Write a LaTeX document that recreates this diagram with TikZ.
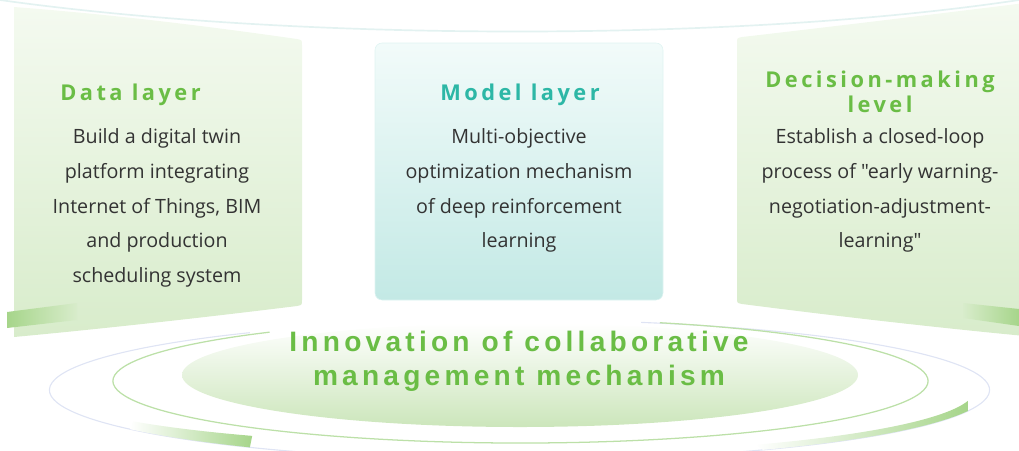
\documentclass[tikz,border=0pt]{standalone}
\usepackage{fontspec}
\setmainfont{Open Sans}[Ligatures=TeXOff]
\newfontfamily\headfont[LetterSpace=16]{Open Sans}
\newfontfamily\corefont[LetterSpace=15]{Liberation Sans}
\usetikzlibrary{calc}
\definecolor{leaf}{HTML}{6ABD45}
\definecolor{teal}{HTML}{2DB7A6}
\definecolor{ink}{HTML}{333333}
\definecolor{leaftop}{HTML}{F4FAF0}
\definecolor{leafbot}{HTML}{D8ECCB}
\definecolor{tealtop}{HTML}{F2FBFA}
\definecolor{tealbot}{HTML}{C3E9E5}
\definecolor{streak}{HTML}{A6D58A}
\definecolor{ring}{HTML}{BCE0A8}
\definecolor{haze}{HTML}{DFE4F4}
\definecolor{skyline}{HTML}{E3F2F1}
\definecolor{ovalbot}{HTML}{CCE6BB}

\begin{document}
\begin{tikzpicture}[x=0.025cm,y=-0.025cm,
  head/.style={font=\headfont\bfseries\fontsize{15.5}{18}\selectfont,inner sep=0,align=center},
  body/.style={font=\fontsize{14}{24.8}\selectfont,text=ink,inner sep=0,align=center}]
  \useasboundingbox (0,0) rectangle (1019,450);
  \clip (0,0) rectangle (1019,450);
  % faint arc over the three panels
  \draw[skyline,line width=1.2pt] (0,0) .. controls (300,42) and (740,42) .. (1019,0);

  % side panels, bent towards the middle
  \shade[top color=leaftop,bottom color=leafbot] (14,7) .. controls (120,15) and (220,28) .. (297,39)
    .. controls (302,40) .. (302,45) -- (302,300) .. controls (302,305) .. (297,306)
    .. controls (200,318) and (100,329) .. (14,337) -- cycle;
  \shade[top color=leaftop,bottom color=leafbot] (742,37) .. controls (820,28) and (920,16) .. (1025,3)
    -- (1025,336) .. controls (920,326) and (820,314) .. (742,304)
    .. controls (737,303) .. (737,298) -- (737,43) .. controls (737,38) .. (742,37) -- cycle;
  \shade[left color=streak,right color=leafbot] (7,312) -- (77,303) -- (77,320) -- (7,328) -- cycle;
  \shade[left color=leafbot,right color=streak] (963,303) -- (1019,309) -- (1019,326) -- (963,318) -- cycle;
  % middle panel
  \shadedraw[draw=tealtop!60!tealbot,top color=tealtop,bottom color=tealbot,rounded corners=5] (375,43) rectangle (663,300);

  % rings round the core
  \coordinate (hub) at (519.5,390);
  \coordinate (ringc) at (520.5,381);
  \draw[haze,line width=0.8pt] (hub) ++(-75:470 and 70) arc[start angle=-75,end angle=235,x radius=470,y radius=70];
  \draw[ring,line width=0.9pt] (ringc) ++(-70:407.5 and 62) arc[start angle=-70,end angle=232,x radius=407.5,y radius=62];
  \shade[top color=white,middle color=ovalbot!45,bottom color=ovalbot] (520,375) ellipse[x radius=338,y radius=52];
  \shade[left color=white,right color=streak] ($(hub)+(125:470 and 70)$) arc[start angle=125,end angle=146,x radius=470,y radius=70]
    -- ($(hub)+(146:466 and 56)$) arc[start angle=146,end angle=125,x radius=466,y radius=56] -- cycle;
  \shade[left color=white,right color=streak] ($(hub)+(17.4:470 and 70)$) arc[start angle=17.4,end angle=58.8,x radius=470,y radius=70]
    -- ($(hub)+(58.8:455 and 64)$) arc[start angle=58.8,end angle=9.7,x radius=455,y radius=64] -- cycle;

  % texts
  \node[head,text=leaf,anchor=west] (dataHead) at (60,95) {Data layer};
  \node[body] (dataBody) at (157,208) {Build a digital twin\\platform integrating\\Internet of Things, BIM\\and production\\scheduling system};
  \node[head,text=teal] (modelHead) at (520,95) {Model layer};
  \node[body] (modelBody) at (519,190.5) {Multi-objective\\optimization mechanism\\of deep reinforcement\\learning};
  \node[head,text=leaf] (decisionHead) at (880,92) {Decision-making\\level};
  \node[body] (decisionBody) at (880,190.5) {Establish a closed-loop\\process of "early warning-\\negotiation-adjustment-\\learning"};
  \node[font=\corefont\bfseries\fontsize{20}{24}\selectfont,text=leaf,align=center,inner sep=0] (core) at (519,361)
    {Innovation of collaborative\\management mechanism};
\end{tikzpicture}
\end{document}
